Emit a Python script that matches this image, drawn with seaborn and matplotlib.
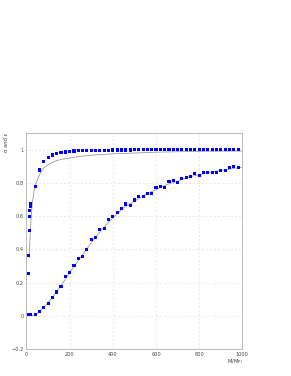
import numpy as np
import pandas as pd
import matplotlib
matplotlib.use("Agg")
import matplotlib.pyplot as plt
import seaborn as sns
from matplotlib.ticker import MultipleLocator

# measured points (mass in units of M_Pl)
mass_low = [10, 11, 12, 14, 16, 18, 20]
sigma_low = [0.253, 0.362, 0.513, 0.60, 0.636, 0.66, 0.676]
eps_low = [0.01, 0.01, 0.01, 0.01, 0.01, 0.01, 0.01]

mass = list(range(40, 1000, 20))
sigma = [0.778, 0.878, 0.928, 0.952, 0.968, 0.976, 0.982, 0.986, 0.990, 0.992,
         0.993, 0.994, 0.995, 0.996, 0.996, 0.997, 0.997, 0.997, 0.998, 0.998,
         0.998, 0.998, 0.998, 0.999, 0.999, 0.999, 0.999, 0.999, 0.999, 0.999,
         0.999, 0.999, 0.999, 1.0, 1.0, 1.0, 1.0, 1.0, 1.0, 1.0,
         1.0, 1.0, 1.0, 1.0, 1.0, 1.0, 1.0, 1.0]
eps = [0.010, 0.026, 0.049, 0.073, 0.109, 0.143, 0.176, 0.235, 0.260, 0.301,
       0.347, 0.356, 0.398, 0.457, 0.473, 0.519, 0.527, 0.580, 0.596, 0.622,
       0.646, 0.673, 0.665, 0.697, 0.717, 0.717, 0.735, 0.735, 0.772, 0.778,
       0.774, 0.808, 0.816, 0.804, 0.826, 0.834, 0.838, 0.856, 0.846, 0.861,
       0.865, 0.865, 0.865, 0.875, 0.875, 0.895, 0.897, 0.893]

# model curves
curve_sigma_x = [13, 15, 18, 22, 27, 35, 45, 62, 80, 100, 130, 160, 200, 250,
                 300, 400, 500, 600, 700, 800, 900, 1000]
curve_sigma_y = [0.35, 0.42, 0.52, 0.60, 0.68, 0.75, 0.80, 0.855, 0.89, 0.91,
                 0.93, 0.942, 0.95, 0.96, 0.967, 0.975, 0.98, 0.985, 0.988,
                 0.99, 0.991, 0.992]
curve_eps_x = [20, 40, 60, 80, 100, 120, 140, 160, 180, 200, 250, 300, 350, 400,
               450, 500, 550, 600, 650, 700, 750, 800, 850, 900, 950, 1000]
curve_eps_y = [0.0, 0.005, 0.025, 0.05, 0.08, 0.11, 0.145, 0.18, 0.22, 0.26,
               0.35, 0.44, 0.52, 0.59, 0.65, 0.69, 0.73, 0.76, 0.79, 0.81,
               0.835, 0.85, 0.865, 0.875, 0.885, 0.895]

pts = pd.DataFrame({
    "m": mass_low + mass + mass_low + mass,
    "v": sigma_low + sigma + eps_low + eps,
})

sns.set_theme(style="white")
plt.rcParams.update({"font.family": ["DejaVu Sans"], "font.size": 3.6})

fig = plt.figure(figsize=(2.91, 3.76), dpi=100)
ax = fig.add_axes([0.091, 0.072, 0.742, 0.574])

sns.lineplot(x=curve_sigma_x, y=curve_sigma_y, ax=ax, color="#999999", lw=0.6)
sns.lineplot(x=curve_eps_x, y=curve_eps_y, ax=ax, color="#999999", lw=0.6)
sns.scatterplot(data=pts, x="m", y="v", ax=ax, marker="s", s=5, color="#0000ff",
                edgecolor="none", zorder=3)

ax.set_xlim(0, 1000)
ax.set_ylim(-0.2, 1.1)
ax.xaxis.set_major_locator(MultipleLocator(200))
ax.xaxis.set_minor_locator(MultipleLocator(50))
ax.yaxis.set_major_locator(MultipleLocator(0.2))
ax.yaxis.set_minor_locator(MultipleLocator(0.05))
ax.set_yticks([-0.2, 0, 0.2, 0.4, 0.6, 0.8, 1.0])
ax.set_yticklabels(["\u22120.2", "0", "0.2", "0.4", "0.6", "0.8", "1"])
ax.tick_params(which="both", direction="in", colors="#aaaaaa", labelcolor="#444444",
               labelsize=3.6, width=0.5, top=False, right=False)
ax.tick_params(which="major", length=4, pad=2)
ax.tick_params(which="minor", length=2)
ax.grid(True, which="major", ls=(0, (3, 3)), color="#dddddd", lw=0.5)
for s in ax.spines.values():
    s.set_color("#bbbbbb")
    s.set_linewidth(0.7)

ax.set_xlabel("")
ax.set_ylabel("")
fig.text(0.833, 0.037, "M/M$_{\\mathrm{Pl}}$", ha="right", va="center",
         fontsize=3.8, color="#444444")
fig.text(0.022, 0.646, "\u03c3 and \u03b5", ha="center", va="top", rotation=90,
         fontsize=3.8, color="#444444")

fig.savefig("out.png", dpi=100)
